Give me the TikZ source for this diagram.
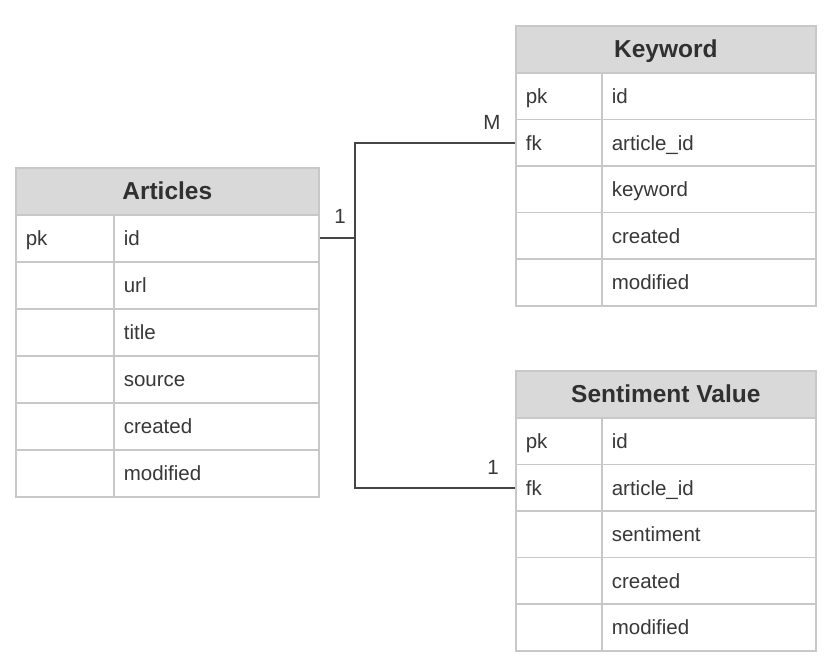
\documentclass[tikz,border=0pt]{standalone}
\usepackage{fontspec}
\setmainfont{Liberation Sans}
\definecolor{bordc}{HTML}{C8C8C8}
\definecolor{hdrc}{HTML}{D9D9D9}
\definecolor{txtc}{HTML}{383838}
\definecolor{hdrtxt}{HTML}{303030}
\definecolor{connc}{HTML}{454545}
\newcommand\erhdrfont{\fontsize{24.5}{28}\selectfont\bfseries}
\newcommand\erbodyfont{\fontsize{20.5}{24}\selectfont}
\begin{document}
\begin{tikzpicture}[x=1pt,y=-1pt,
  hdr/.style={draw=bordc, fill=hdrc, line width=1.6pt, minimum height=47pt, inner sep=0pt,
    anchor=north west, font=\erhdrfont, text=hdrtxt, text height=16.5pt, text depth=0pt},
  cell/.style={draw=bordc, fill=white, line width=1.6pt, inner ysep=0pt, inner xsep=10pt,
    anchor=north west, font=\erbodyfont, text=txtc, align=left, text height=15pt, text depth=0pt},
  keycellA/.style={cell, minimum height=47pt, text width=78pt},
  valcellA/.style={cell, minimum height=47pt, text width=185pt},
  keycellB/.style={cell, minimum height=47pt, text width=66pt},
  valcellB/.style={cell, minimum height=47pt, text width=194pt},
  conn/.style={draw=connc, line width=1.8pt},
  card/.style={font=\erbodyfont, text=txtc, inner sep=0pt}
]
\useasboundingbox (0,0) rectangle (826,658);
% Articles
\node[hdr, minimum width=303pt] (art-h) at (15,167) {Articles};
\foreach \k/\v [count=\i] in {pk/id,{}/url,{}/title,{}/source,{}/created,{}/modified}{
  \node[keycellA] (art-k\i) at (15,{214+47*(\i-1)}) {\k};
  \node[valcellA] (art-v\i) at (113,{214+47*(\i-1)}) {\v};
}
% Keyword
\node[hdr, minimum width=300pt] (kw-h) at (515,25) {Keyword};
\foreach \k/\v [count=\i] in {pk/id,fk/article\_id,{}/keyword,{}/created,{}/modified}{
  \node[keycellB] (kw-k\i) at (515,{72+46.5*(\i-1)}) {\k};
  \node[valcellB] (kw-v\i) at (601,{72+46.5*(\i-1)}) {\v};
}
% Sentiment Value
\node[hdr, minimum width=300pt] (sv-h) at (515,370) {Sentiment Value};
\foreach \k/\v [count=\i] in {pk/id,fk/article\_id,{}/sentiment,{}/created,{}/modified}{
  \node[keycellB] (sv-k\i) at (515,{417+46.5*(\i-1)}) {\k};
  \node[valcellB] (sv-v\i) at (601,{417+46.5*(\i-1)}) {\v};
}
% connectors
\coordinate (jx) at (355,0);
\draw[conn] (art-v1.east) -- (art-v1.east -| jx);
\draw[conn] (kw-k2.west) -- (kw-k2.west -| jx) -- (sv-k2.west -| jx) -- (sv-k2.west);
\node[card] (c1) at (340,216) {1};
\node[card] (cM) at (492,122) {M};
\node[card] (c2) at (493,467) {1};
\end{tikzpicture}
\end{document}
